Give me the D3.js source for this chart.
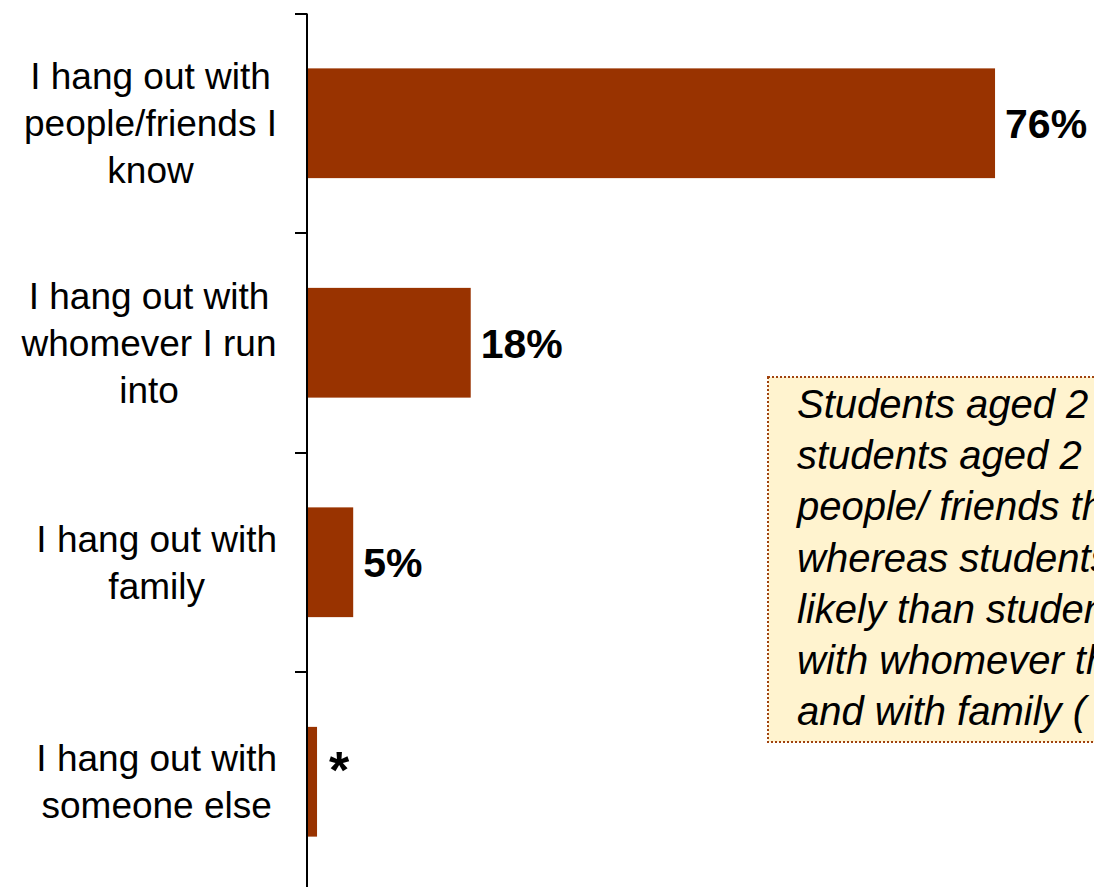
<!DOCTYPE html>
<html>
<head>
<meta charset="utf-8">
<script src="https://cdn.jsdelivr.net/npm/d3@7"></script>
<style>
  html, body { margin: 0; padding: 0; background: #ffffff; overflow: hidden; }
  svg { display: block; }
</style>
</head>
<body>
<svg id="chart" width="1094" height="887"></svg>
<script>
// Survey answers and share of respondents (%)
const categories = [
  "I hang out with people/friends I know",
  "I hang out with whomever I run into",
  "I hang out with family",
  "I hang out with someone else"
];
const categoryLines = [
  ["I hang out with", "people/friends I", "know"],
  ["I hang out with", "whomever I run", "into"],
  ["I hang out with", "family"],
  ["I hang out with", "someone else"]
];
const values = [76, 18, 5, 1];
const valueLabels = ["76%", "18%", "5%", "*"];

// Call-out text, one entry per line (it runs past the right edge of the page)
const noteLines = [
  "Students aged 2",
  "students aged 2",
  "people/ friends they",
  "whereas students",
  "likely than students",
  "with whomever they",
  "and with family ("
];

const W = 1094, H = 887;
const svg = d3.select("#chart");
const font = "'Liberation Sans', Arial, Helvetica, sans-serif";
const barColor = "#993300";

const y = d3.scaleBand()
  .domain(categories)
  .range([13.5, 891.5])
  .paddingInner(0.5)
  .paddingOuter(0.25);

const x = d3.scaleLinear()
  .domain([0, 100])
  .range([308, 1212]);

// bars
svg.append("g")
  .selectAll("rect")
  .data(categories)
  .join("rect")
  .attr("x", x(0))
  .attr("y", d => y(d))
  .attr("width", (d, i) => x(values[i]) - x(0))
  .attr("height", y.bandwidth())
  .attr("fill", barColor);

// category axis: vertical line with ticks between bands
const axisX = 307;
svg.append("line")
  .attr("x1", axisX).attr("x2", axisX)
  .attr("y1", y.range()[0]).attr("y2", y.range()[1])
  .attr("stroke", "#000").attr("stroke-width", 2);

const step = y.step();
const tickYs = categories.slice(0, -1).map(c => y(c) + y.bandwidth() + (step - y.bandwidth()) / 2);
tickYs.unshift(y.range()[0]);
svg.append("g")
  .selectAll("line")
  .data(tickYs)
  .join("line")
  .attr("x1", axisX - 12).attr("x2", axisX)
  .attr("y1", d => Math.round(d)).attr("y2", d => Math.round(d))
  .attr("stroke", "#000").attr("stroke-width", 2);

// category labels: each block centred on its own widest line, blocks right-aligned
const labelRight = 277;
const lineH = 47;
const labelG = svg.append("g")
  .attr("font-family", font)
  .attr("font-size", 37)
  .attr("fill", "#000");

categories.forEach((c, i) => {
  const lines = categoryLines[i];
  const cy = y(c) + y.bandwidth() / 2;
  const t = labelG.append("text").attr("text-anchor", "middle");
  lines.forEach((ln, j) => {
    t.append("tspan")
      .attr("x", 0)
      .attr("y", cy + (j - (lines.length - 1) / 2) * lineH)
      .attr("dy", "0.35em")
      .text(ln);
  });
  const w = t.node().getBBox().width;
  t.attr("transform", `translate(${labelRight - w / 2},0)`);
});

// value labels
svg.append("g")
  .selectAll("text")
  .data(categories)
  .join("text")
  .attr("font-family", font)
  .attr("font-weight", "bold")
  .attr("font-size", (d, i) => valueLabels[i] === "*" ? 52 : 41)
  .attr("x", (d, i) => x(values[i]) + (valueLabels[i] === "*" ? 12 : 10))
  .attr("y", (d, i) => y(d) + y.bandwidth() / 2)
  .attr("dy", (d, i) => valueLabels[i] === "*" ? "0.12em" : "0.36em")
  .attr("fill", "#000")
  .text((d, i) => valueLabels[i]);

// call-out box
const box = { x: 768, y: 377, w: 400, h: 365 };
svg.append("rect")
  .attr("x", box.x).attr("y", box.y)
  .attr("width", box.w).attr("height", box.h)
  .attr("fill", "#FFF3CF")
  .attr("stroke", "#A0420F")
  .attr("stroke-width", 2)
  .attr("stroke-dasharray", "2,2");

svg.append("text")
  .attr("font-family", font)
  .attr("font-style", "italic")
  .attr("font-size", 40)
  .attr("fill", "#000")
  .selectAll("tspan")
  .data(noteLines)
  .join("tspan")
  .attr("x", 797)
  .attr("y", (d, i) => 418 + i * 51.2)
  .text(d => d);
</script>
</body>
</html>
